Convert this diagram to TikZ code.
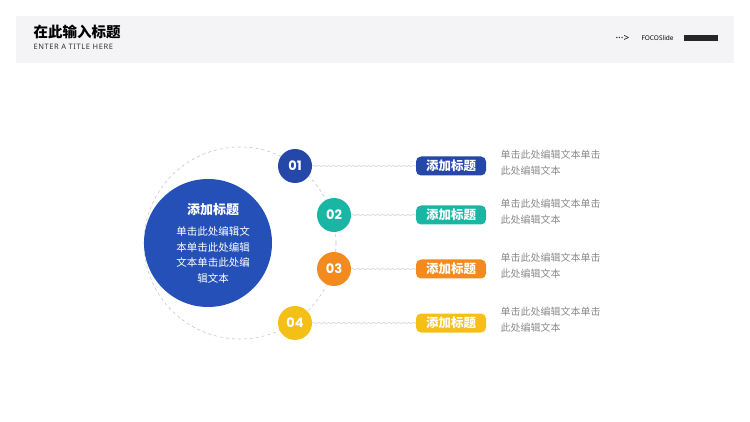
\documentclass[tikz,border=0pt]{standalone}
\usepackage{fontspec}
\setmainfont{Noto Sans}
\newfontfamily\cjk{Noto Sans CJK SC}
\newfontfamily\numf{Poppins}
\usetikzlibrary{decorations.pathmorphing}
\definecolor{hdr}{HTML}{F4F4F6}
\definecolor{cA}{HTML}{2447A8}
\definecolor{cB}{HTML}{1BB5A4}
\definecolor{cC}{HTML}{F28A1E}
\definecolor{cD}{HTML}{F5C016}
\definecolor{big}{HTML}{2550B8}
\definecolor{desc}{HTML}{8A8A8A}
\tikzset{x=1pt,y=-1pt,
 num/.style={circle,minimum size=34pt,inner sep=0pt,text=white,font=\numf\bfseries\fontsize{13}{13}\selectfont},
 lab/.style={rounded corners=5pt,minimum width=70pt,minimum height=19pt,inner sep=0pt,text=white,font=\cjk\bfseries\fontsize{12.5}{12.5}\selectfont},
 dtext/.style={anchor=west,align=left,text=desc,font=\cjk\fontsize{10}{16}\selectfont},
 conn/.style={draw=gray!45,line width=0.6pt,decorate,decoration={snake,amplitude=0.4pt,segment length=5pt}}}
\begin{document}
\begin{tikzpicture}
\useasboundingbox (0,0) rectangle (750,422);
\fill[hdr] (16,16) rectangle (734,63);
\node[anchor=west,font=\cjk\bfseries\fontsize{14.5}{14.5}\selectfont] (title) at (30,32) {在此输入标题};
\node[anchor=west,font=\fontsize{7.5}{7.5}\selectfont,text=black!80] (sub) at (30,47) {\addfontfeature{LetterSpace=8}ENTER A TITLE HERE};
\node[anchor=west,font=\fontsize{10}{10}\selectfont] (arr) at (612,38) {···>};
\node[anchor=west,font=\fontsize{6.5}{6.5}\selectfont] (brand) at (638,38) {FOCOSlide};
\fill[black!85] (684,35) rectangle (718,41);
\draw[gray!45,dashed,line width=0.6pt] (240,243) circle (96);
\node[circle,fill=big,minimum size=128pt,inner sep=0pt] (main) at (208,243) {};
\node[text=white,font=\cjk\bfseries\fontsize{13}{13}\selectfont] (mt) at (213,210) {添加标题};
\node[text=white,align=center,font=\cjk\fontsize{10.5}{15.5}\selectfont] (mb) at (213,255) {单击此处编辑文\\本单击此处编辑\\文本单击此处编\\辑文本};
\foreach \i/\x/\y/\c/\n in {1/295/166/cA/01,2/334/215/cB/02,3/334/269/cC/03,4/295/323/cD/04}{
 \node[num,fill=\c] (n\i) at (\x,\y) {\n};
 \node[lab,fill=\c] (l\i) at (451,\y) {添加标题};
 \draw[conn] (n\i.east) -- (l\i.west);
 \node[dtext] (d\i) at (497,\y-3) {单击此处编辑文本单击\\此处编辑文本};
}
\end{tikzpicture}
\end{document}
